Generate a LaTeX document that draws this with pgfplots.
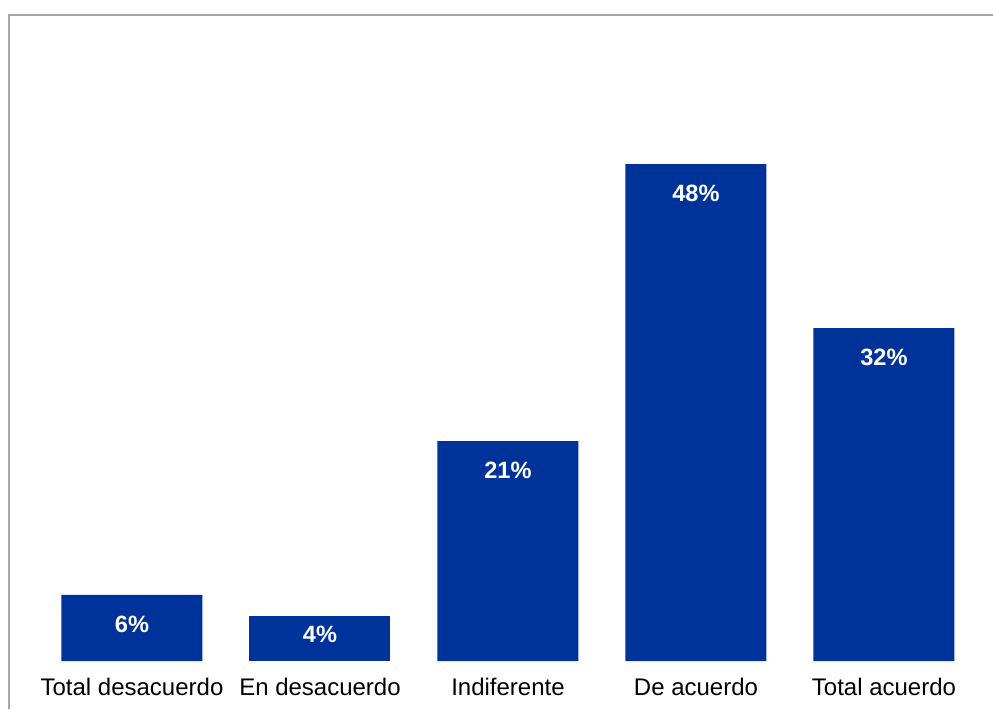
\documentclass[border=0pt]{standalone}
\usepackage{pgfplots}
\pgfplotsset{compat=1.18}
\usepackage{fontspec}
\setmainfont{Liberation Sans}
\definecolor{barblue}{RGB}{0,51,153}
\definecolor{framegray}{RGB}{166,166,166}
\begin{document}
\begin{tikzpicture}
\path[use as bounding box] (0pt,0pt) rectangle (496.5pt,-354.5pt);
\draw[framegray, line width=1pt] (4.5pt,-354.5pt) -- (4.5pt,-7.5pt) -- (496.5pt,-7.5pt);
\begin{axis}[
  at={(19pt,-330.5pt)}, anchor=south west,
  scale only axis, width=470pt, height=312pt,
  xmin=-0.5, xmax=4.5, ymin=0, ymax=60,
  axis line style={draw=none},
  major tick length=0pt,
  ytick=\empty,
  xtick={0,1,2,3,4},
  xticklabels={Total desacuerdo, En desacuerdo, Indiferente, De acuerdo, Total acuerdo},
  xticklabel style={font=\fontsize{12}{14}\selectfont, text=black, yshift=-5pt},
  ybar, bar width=70.5pt, bar shift=0pt,
  point meta=explicit symbolic,
  nodes near coords={\pgfplotspointmeta\%},
  nodes near coords style={font=\bfseries\fontsize{11.8}{13}\selectfont, text=white, anchor=center, yshift=-14.5pt},
  clip=false,
]
\addplot[draw=none, fill=barblue] coordinates {(0,6.35) [6] (2,21.15) [21] (3,47.79) [48] (4,32.02) [32]};
\addplot[draw=none, fill=barblue, nodes near coords style={yshift=5.5pt}] coordinates {(1,4.33) [4]};
\end{axis}
\end{tikzpicture}
\end{document}
